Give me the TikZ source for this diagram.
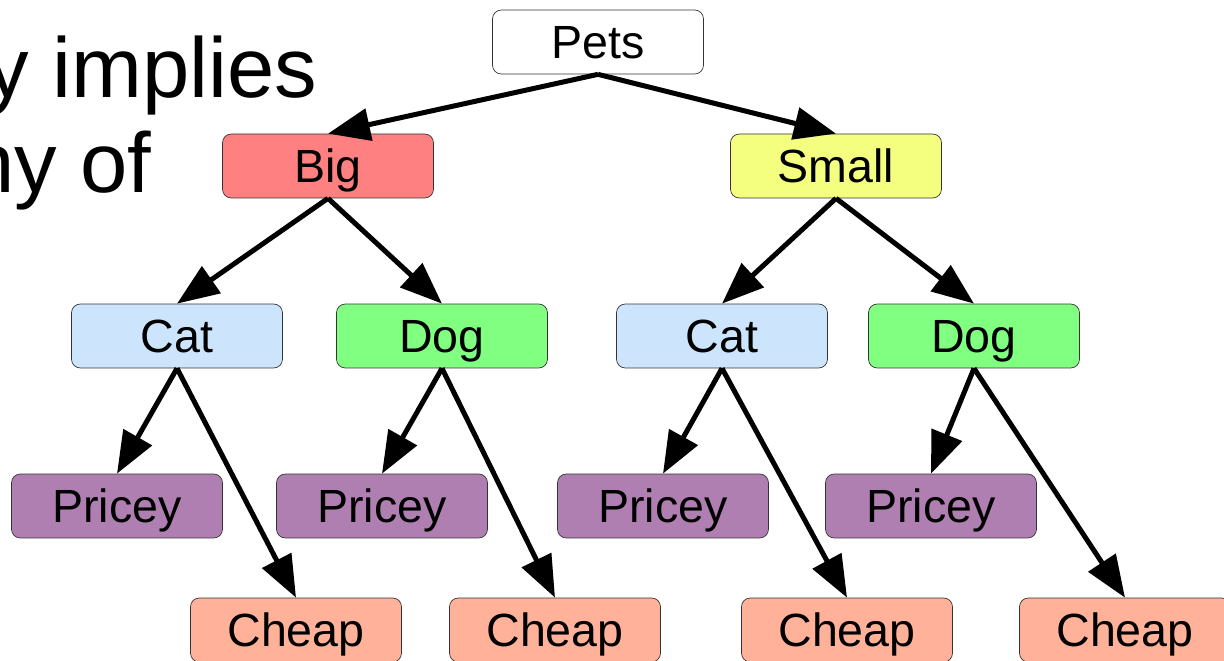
\documentclass[tikz,border=0pt]{standalone}
\usepackage{fontspec}
\setmainfont{Liberation Sans}
\usetikzlibrary{arrows.meta}
\definecolor{ink}{HTML}{333333}
\definecolor{bigred}{HTML}{FF8080}
\definecolor{smallyellow}{HTML}{F4FF80}
\definecolor{catblue}{HTML}{CCE5FC}
\definecolor{doggreen}{HTML}{80FF80}
\definecolor{priceypurple}{HTML}{B07FB2}
\definecolor{cheapsalmon}{HTML}{FFB299}

\begin{document}
\begin{tikzpicture}[x=0.02cm,y=-0.02cm,
    >={Triangle[length=0.84cm,width=0.64cm]},
    box/.style={draw=ink,rounded corners=5pt,minimum width=4.22cm,
      minimum height=1.28cm,inner sep=0pt,text height=19pt,text depth=0pt,
      font=\fontsize{26.5}{30}\selectfont},
    edge/.style={->,line width=0.1cm},
    slidetext/.style={anchor=base west,inner sep=0pt,
      font=\fontsize{48.4}{58}\selectfont}]
  \useasboundingbox (0,0) rectangle (1224,661);
  \clip (0,0) rectangle (1224,661);

  % Text running in from the left edge of the slide.
  \node[slidetext] (lineone) at (-14,98) {y implies};
  \node[slidetext] (linetwo) at (-33,193) {ny of};

  % Tree levels.
  \node[box,fill=white] (pets) at (598,42) {Pets};
  \node[box,fill=bigred] (big) at (328,166) {Big};
  \node[box,fill=smallyellow] (small) at (836,166) {Small};

  \node[box,fill=catblue] (bigcat) at (177,336) {Cat};
  \node[box,fill=doggreen] (bigdog) at (442,336) {Dog};
  \node[box,fill=catblue] (smallcat) at (722,336) {Cat};
  \node[box,fill=doggreen] (smalldog) at (974,336) {Dog};

  \node[box,fill=priceypurple] (bigcatpricey) at (117,506) {Pricey};
  \node[box,fill=priceypurple] (bigdogpricey) at (382,506) {Pricey};
  \node[box,fill=priceypurple] (smallcatpricey) at (663,506) {Pricey};
  \node[box,fill=priceypurple] (smalldogpricey) at (931,506) {Pricey};

  \node[box,fill=cheapsalmon] (bigcatcheap) at (296,630) {Cheap};
  \node[box,fill=cheapsalmon] (bigdogcheap) at (555,630) {Cheap};
  \node[box,fill=cheapsalmon] (smallcatcheap) at (847,630) {Cheap};
  \node[box,fill=cheapsalmon] (smalldogcheap) at (1125,630) {Cheap};

  % Every edge runs from the bottom of a parent to the top of a child.
  \foreach \from/\to in {pets/big,pets/small,
      big/bigcat,big/bigdog,small/smallcat,small/smalldog,
      bigcat/bigcatpricey,bigcat/bigcatcheap,
      bigdog/bigdogpricey,bigdog/bigdogcheap,
      smallcat/smallcatpricey,smallcat/smallcatcheap,
      smalldog/smalldogpricey,smalldog/smalldogcheap}
    \draw[edge] (\from.south) -- (\to.north);
\end{tikzpicture}
\end{document}
